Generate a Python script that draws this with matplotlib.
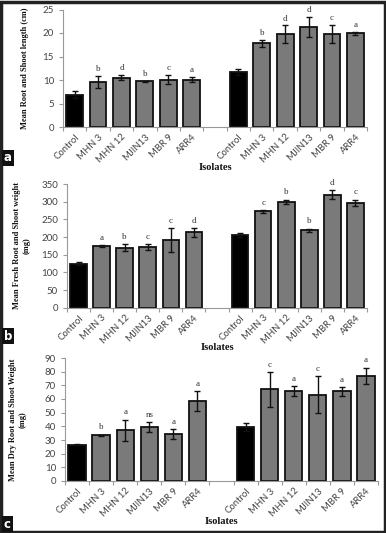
import matplotlib.pyplot as plt
from matplotlib.patches import Rectangle

isolates = ['Control', 'MHN 3', 'MHN 12', 'MJIN13', 'MBR 9', 'ARR4']

# panel a: root and shoot length (cm)
length_1 = [6.9, 9.5, 10.5, 9.7, 10.1, 10.1]
length_1_err = [0.7, 1.3, 0.5, 0.15, 1.0, 0.5]
length_1_sig = ['', 'b', 'd', 'b', 'c', 'a']
length_2 = [11.7, 17.8, 19.7, 21.3, 19.8, 19.9]
length_2_err = [0.7, 0.7, 1.9, 2.2, 1.9, 0.4]
length_2_sig = ['', 'b', 'd', 'd', 'c', 'a']

# panel b: fresh weight (mg)
fresh_1 = [125, 175, 170, 171, 191, 213]
fresh_1_err = [4, 3, 10, 9, 34, 12]
fresh_1_sig = ['', 'a', 'b', 'c', 'c', 'd']
fresh_2 = [206, 273, 300, 219, 320, 297]
fresh_2_err = [6, 4, 6, 5, 12, 9]
fresh_2_sig = ['', 'c', 'b', 'b', 'd', 'c']

# panel c: dry weight (mg)
dry_1 = [26.5, 33.5, 37, 39.5, 34.5, 58.5]
dry_1_err = [0.5, 0.5, 8, 3.8, 3.8, 7.5]
dry_1_sig = ['', 'b', 'a', 'ns', 'a', 'a']
dry_2 = [39.5, 67, 66, 63, 65.5, 77]
dry_2_err = [2.8, 12.5, 3.5, 13.5, 3, 6]
dry_2_sig = ['', 'c', 'a', 'c', 'a', 'a']

W, H = 386, 533
SERIF = ['Liberation Serif', 'DejaVu Serif']
SANS = ['Lato', 'DejaVu Sans']


def panel(fig, box, v1, e1, s1, v2, e2, s2, ymax, ystep, ylabel, ylab_x, letter, letter_y, xlab_y):
    l, r, top, bot = box
    ax = fig.add_axes([l / W, 1 - bot / H, (r - l) / W, (bot - top) / H])
    vals = v1 + [0] + v2
    errs = e1 + [0] + e2
    sigs = s1 + [''] + s2
    pos = list(range(len(vals)))
    colors = []
    for i in pos:
        if i in (0, 7):
            colors.append('black')
        else:
            colors.append('#7a7a7a')
    for i in pos:
        if i == 6:
            continue
        ax.bar(i, vals[i], width=0.72, color=colors[i], edgecolor='#111111', linewidth=1.3, zorder=2)
        ax.errorbar(i, vals[i], yerr=errs[i], color='#111111', capsize=2.3, elinewidth=1.0,
                    capthick=1.0, zorder=3)
        if sigs[i]:
            ax.text(i, vals[i] + errs[i] + ymax * 0.025, sigs[i], ha='center', va='bottom',
                    fontsize=6.5, family=SERIF, color='#333333')
    ax.set_xlim(-0.5, 12.5)
    ax.set_ylim(0, ymax)
    ax.set_yticks(range(0, ymax + 1, ystep))
    ax.set_xticks(pos)
    labels = isolates + [''] + isolates
    ax.set_xticklabels(labels, rotation=45, ha='right', rotation_mode='anchor',
                       fontsize=6.8, family=SANS, color='#444444')
    ax.set_xticks([p - 0.5 for p in range(14)], minor=True)
    ax.tick_params(axis='x', which='major', length=0, pad=4)
    ax.tick_params(axis='x', which='minor', length=3, color='#999999', width=0.8)
    ax.tick_params(axis='y', length=3, color='#999999', width=0.8, labelsize=7, labelcolor='#444444')
    for t in ax.get_yticklabels():
        t.set_family(SANS)
    for s in ['top', 'right']:
        ax.spines[s].set_visible(False)
    for s in ['left', 'bottom']:
        ax.spines[s].set_color('#999999')
        ax.spines[s].set_linewidth(0.8)
    fig.text(ylab_x / W, 1 - (top + bot) / 2 / H, ylabel, rotation=90, ha='center', va='center',
             fontsize=6, fontweight='bold', family=SERIF, color='#111111', linespacing=1.25)
    fig.text((l + r) / 2 / W, 1 - xlab_y / H, 'Isolates', ha='center', va='center',
             fontsize=7.5, fontweight='bold', family=SERIF, color='#111111')
    fig.text(4 / W, 1 - letter_y / H, letter, ha='left', va='center', fontsize=8.5,
             fontweight='bold', family=['DejaVu Sans'], color='white',
             bbox=dict(boxstyle='square,pad=0.15', facecolor='#111111', edgecolor='none'))
    return ax


def main():
    fig = plt.figure(figsize=(W / 100, H / 100), dpi=100)
    panel(fig, (63, 367, 9.5, 127), length_1, length_1_err, length_1_sig,
          length_2, length_2_err, length_2_sig, 25, 5,
          'Mean Root and Shoot length (cm)', 25, 'a', 158, 168)
    panel(fig, (67, 367, 184, 307.7), fresh_1, fresh_1_err, fresh_1_sig,
          fresh_2, fresh_2_err, fresh_2_sig, 350, 50,
          'Mean Fresh Root and Shoot weight\n(mg)', 22, 'b', 336, 348)
    panel(fig, (65, 378, 358, 481), dry_1, dry_1_err, dry_1_sig,
          dry_2, dry_2_err, dry_2_sig, 90, 10,
          'Mean Dry Root and Shoot Weight\n(mg)', 18, 'c', 524, 522)
    fig.patches.append(Rectangle((0.002, 0.002), 0.995, 0.995, transform=fig.transFigure,
                                 fill=False, edgecolor='#222222', linewidth=2.5))
    fig.savefig('out.png', dpi=100)
    plt.close(fig)


if __name__ == "__main__":
    main()
